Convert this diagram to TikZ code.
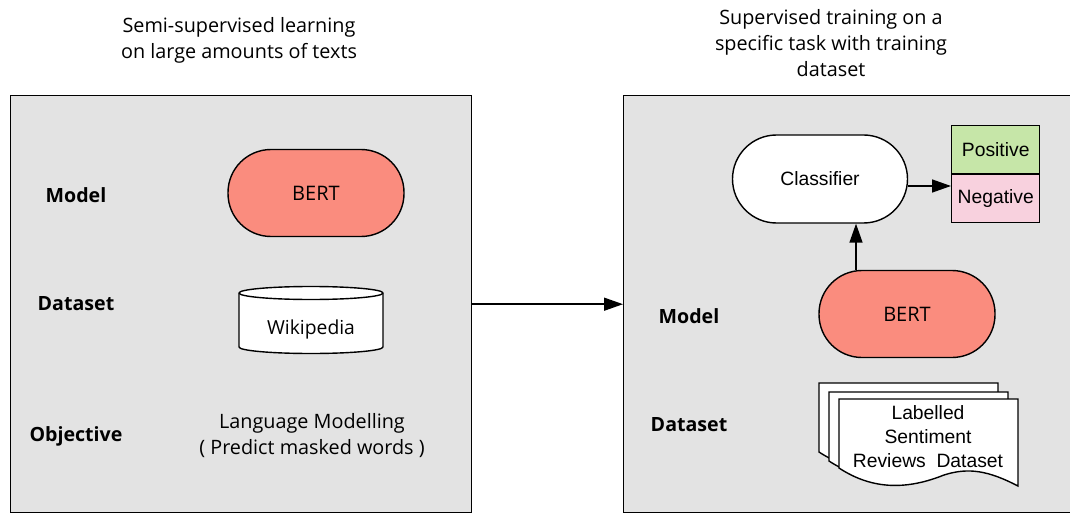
\documentclass[tikz,border=0pt]{standalone}
\usepackage{fontspec}
\setmainfont{Open Sans}
\newfontfamily\arialfont{Liberation Sans}
\usetikzlibrary{arrows.meta,positioning}
\definecolor{panelgray}{RGB}{227,227,227}
\definecolor{bertred}{RGB}{250,140,126}
\definecolor{posgreen}{RGB}{198,230,168}
\definecolor{negpink}{RGB}{248,209,222}

\begin{document}
\begin{tikzpicture}[x=1pt,y=-1pt]
\tikzstyle{panel}=[draw=black, line width=1.4pt, fill=panelgray, inner sep=0pt,
	minimum height=417pt, anchor=north west]
\tikzstyle{rowname}=[font=\fontsize{19.6}{22}\selectfont\bfseries]
\tikzstyle{title}=[align=center, font=\fontsize{19.8}{26}\selectfont]
\tikzstyle{stadium}=[draw=black, line width=1.4pt, rounded corners=43pt,
	minimum width=176pt, minimum height=87pt, font=\fontsize{20}{24}\selectfont]
\tikzstyle{classbox}=[draw=black, line width=1.4pt, minimum width=88pt,
	minimum height=48pt, font=\arialfont\fontsize{19.3}{22}\selectfont]
\tikzstyle{sheet}=[draw=black, fill=white, line width=1.4pt, line join=miter]
\tikzstyle{arr}=[line width=1.5pt, -{Triangle[length=19pt,width=13pt]}]

\useasboundingbox (0,0) rectangle (1070,513);

% panels
\node[panel, minimum width=461pt] (left) at (10,95) {};
\node[panel, minimum width=460pt] (right) at (623,95) {};
\node[title] (lefttitle) at (239,40) {Semi-supervised learning\\on large amounts of texts};
\node[title] (righttitle) at (831,43) {Supervised training on a\\specific task with training\\dataset};
\draw[arr] (left.east) -- (right.west);

% pre-training side
\node[rowname] (lmodel) at (76,195) {Model};
\node[rowname] (ldata) at (76,304) {Dataset};
\node[rowname] (lobj) at (76,436) {Objective};
\node[stadium, fill=bertred] (bert) at (316,193) {BERT};
\filldraw[fill=white, line width=1.4pt] (239,293) -- (239,347)
	arc[start angle=180, end angle=360, x radius=72pt, y radius=6.5pt] -- (383,293)
	arc[start angle=0, end angle=180, x radius=72pt, y radius=6.5pt] -- cycle;
\draw[line width=1.4pt] (239,293) arc[start angle=180, end angle=360, x radius=72pt, y radius=6.5pt];
\node[font=\fontsize{19.3}{24}\selectfont] (wiki) at (311,329) {Wikipedia};
\node[title] (objective) at (312,436) {Language Modelling\\( Predict masked words )};

% fine-tuning side
\node[rowname] (rmodel) at (689,316) {Model};
\node[rowname] (rdata) at (689,425) {Dataset};
\node[stadium, fill=white, font=\arialfont\fontsize{19.3}{22}\selectfont,
	minimum width=175pt, minimum height=88pt, rounded corners=44pt] (clf) at (820,179) {Classifier};
\node[classbox, fill=posgreen, anchor=south west] (pos) at (951,174) {Positive};
\node[classbox, fill=negpink, anchor=north west] (neg) at (951,174) {Negative};
\node[stadium, fill=bertred] (bert2) at (907,314) {BERT};
\draw[arr] ([xshift=-51pt]bert2.north) -- ([xshift=-51pt]bert2.north |- clf.south);
\coordinate (clfout) at ([yshift=-7pt]clf.east);
\draw[arr] (clfout) -- (clfout -| neg.west);

\foreach \px/\py in {819/383, 829/392, 839/399}
	\filldraw[sheet] (\px,\py) -- ({\px+179},\py) -- ({\px+179},{\py+87})
		.. controls ({\px+150},{\py+72}) and ({\px+130},{\py+68}) .. ({\px+105},{\py+76})
		.. controls ({\px+70},{\py+90}) and ({\px+35},{\py+92}) .. (\px,{\py+69}) -- cycle;
\node[align=center, font=\arialfont\fontsize{19.3}{24}\selectfont] (docs) at (928,437)
	{Labelled\\Sentiment\\Reviews~~Dataset};

\end{tikzpicture}
\end{document}
